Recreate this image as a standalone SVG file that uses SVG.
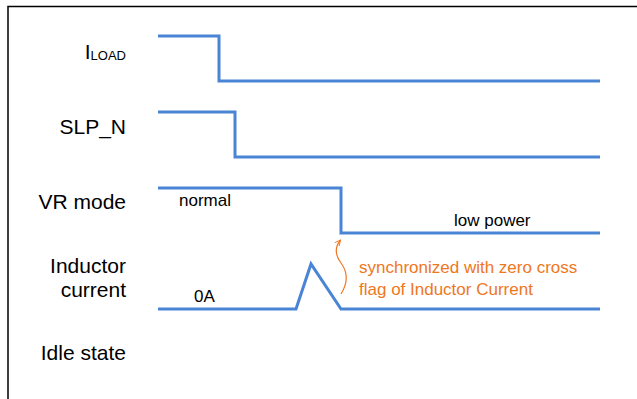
<svg xmlns="http://www.w3.org/2000/svg" width="637" height="399" viewBox="0 0 637 399">
<defs>
<style>
.frame{stroke:#000;stroke-width:1.5;fill:none}
.sig{stroke:#4A84D4;stroke-width:3;fill:none;stroke-linejoin:miter;stroke-linecap:butt}
.lbl{font-family:"Liberation Sans",Arial,sans-serif;font-size:21px;fill:#000;text-anchor:end}
.sm{font-family:"Liberation Sans",Arial,sans-serif;font-size:17px;fill:#000}
.note{font-family:"Liberation Sans",Arial,sans-serif;font-size:17px;fill:#EE7722}
.arr{stroke:#EE7722;stroke-width:1.2;fill:none}
</style>
<marker id="ah" viewBox="0 0 10 10" refX="9" refY="5" markerWidth="7" markerHeight="7" orient="auto" markerUnits="userSpaceOnUse">
<path d="M1,1 L9,5 L1,9" fill="none" stroke="#EE7722" stroke-width="1.4"/>
</marker>
</defs>
<rect width="637" height="399" fill="#fff"/>
<g id="frame">
<path class="frame" d="M8,399 V6.5 H637"/>
</g>
<g id="labels">
<text class="lbl" x="126" y="59">I<tspan font-size="13" dy="1">LOAD</tspan></text>
<text class="lbl" x="126" y="134">SLP_N</text>
<text class="lbl" x="126" y="209">VR mode</text>
<text class="lbl" x="126" y="273">Inductor</text>
<text class="lbl" x="126" y="297">current</text>
<text class="lbl" x="126" y="360">Idle state</text>
</g>
<g id="connectors">
<path id="iload" class="sig" d="M158,36 H219 V81 H600"/>
<path id="slp_n" class="sig" d="M158,112 H235 V157 H600"/>
<path id="vr_mode" class="sig" d="M158,188 H341 V233 H600"/>
<path id="inductor_current" class="sig" d="M158,309 H296 L311,264 L341,309 H600"/>
<path id="sync_arrow" class="arr" d="M341,294 C349,281 347,271 341,263 C335,255 334,248 340.5,240" marker-end="url(#ah)"/>
</g>
<g id="annotations">
<text class="sm" x="179" y="206">normal</text>
<text class="sm" x="454" y="226">low power</text>
<text class="sm" x="194" y="302">0A</text>
<text class="note" x="359" y="273">synchronized with zero cross</text>
<text class="note" x="359" y="295">flag of Inductor Current</text>
</g>
</svg>
